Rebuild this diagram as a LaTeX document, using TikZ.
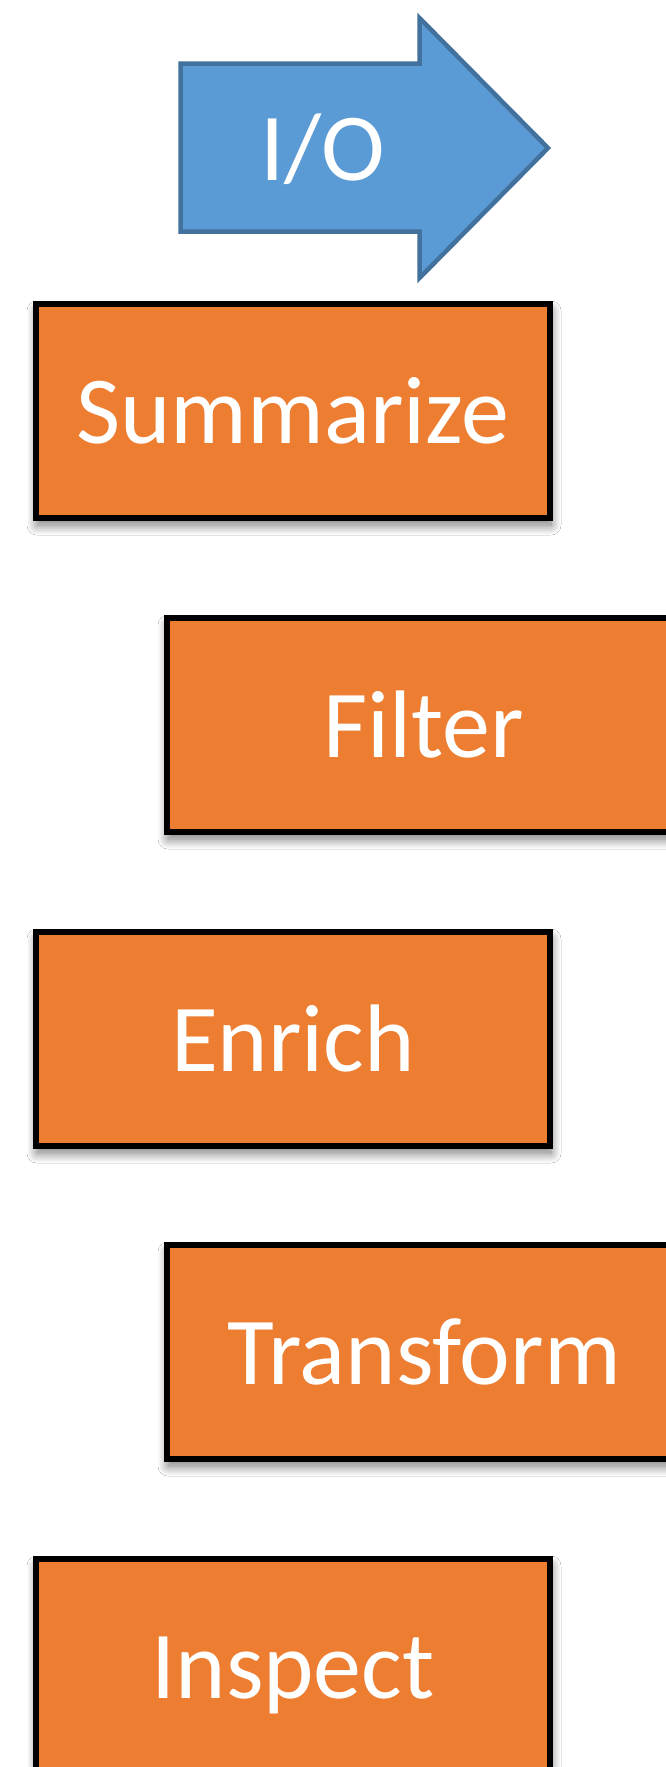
\documentclass[tikz,border=0pt]{standalone}
\usepackage{fontspec}
\setmainfont{Carlito}
\usetikzlibrary{shadows.blur}
\definecolor{boxorange}{HTML}{ED7D31}
\definecolor{ioblue}{HTML}{5B9BD5}
\definecolor{ioborder}{HTML}{41719C}
\tikzset{
  stagebox/.style={rectangle, draw=black, line width=5.5pt, fill=boxorange,
    minimum width=514pt, minimum height=214pt, inner sep=0pt, outer sep=0pt,
    text=white, font=\fontsize{96}{110}\selectfont, text height=65pt, text depth=0pt,
    blur shadow={shadow xshift=1pt, shadow yshift=-7pt, shadow blur radius=10pt, shadow blur steps=20, shadow opacity=55}},
  iolabel/.style={text=white, font=\fontsize{96}{110}\selectfont, inner sep=0pt}
}
\begin{document}
\begin{tikzpicture}[x=1pt,y=-1pt]
\fill[white] (0,0) rectangle (666,1767);
\useasboundingbox (0,0) rectangle (666,1767);
\draw[ioborder, fill=ioblue, line width=4.5pt, line join=miter]
  (180.5,63.5) -- (419.5,63.5) -- (419.5,18) -- (548,148) -- (419.5,278) -- (419.5,231.5) -- (180.5,231.5) -- cycle;
\node[iolabel, anchor=base] (io) at (323,180) {I/O};
\node[stagebox] (summarize) at (293,411) {Summarize};
\node[stagebox] (filter) at (424,725) {Filter};
\node[stagebox] (enrich) at (293,1039) {Enrich};
\node[stagebox] (transform) at (424,1352) {Transform};
\node[stagebox] (inspect) at (293,1666) {Inspect};
\end{tikzpicture}
\end{document}
